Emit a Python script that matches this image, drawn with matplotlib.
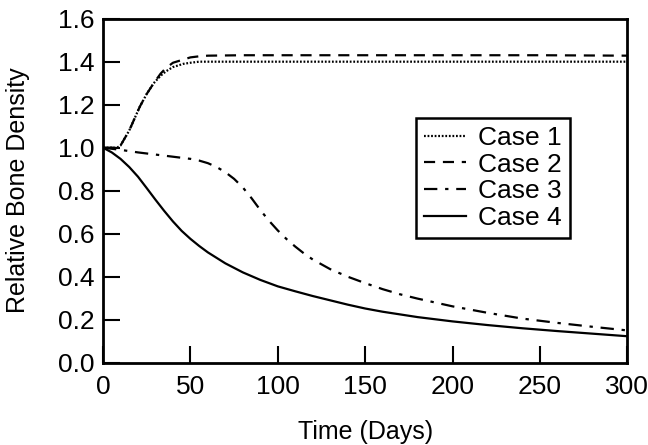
import matplotlib.pyplot as plt

plt.rcParams['font.family'] = ['Liberation Sans', 'DejaVu Sans']

# Case 1 / Case 2: rise to a plateau
days_up = [0, 5, 8, 10, 15, 21, 25, 29, 33, 36, 40, 46, 50, 55, 60, 80, 100, 150, 200, 250, 300]
case1 = [1.0, 1.0, 1.0, 1.01, 1.08, 1.19, 1.25, 1.30, 1.335, 1.355, 1.375, 1.39, 1.395, 1.40,
         1.40, 1.40, 1.40, 1.40, 1.40, 1.40, 1.40]
case2 = [1.0, 1.0, 1.0, 1.01, 1.08, 1.19, 1.25, 1.30, 1.345, 1.37, 1.395, 1.41, 1.42, 1.425,
         1.428, 1.43, 1.43, 1.43, 1.43, 1.43, 1.428]

# Case 3: delayed loss
days3 = [0, 10, 20, 30, 40, 50, 55, 60, 65, 70, 75, 80, 85, 90, 95, 100, 105, 110, 115, 120,
         130, 140, 150, 160, 170, 180, 200, 220, 240, 260, 280, 300]
case3 = [1.0, 0.99, 0.978, 0.968, 0.958, 0.948, 0.94, 0.928, 0.91, 0.886, 0.855, 0.815, 0.765,
         0.71, 0.66, 0.615, 0.575, 0.54, 0.508, 0.48, 0.435, 0.40, 0.37, 0.342, 0.318, 0.298,
         0.262, 0.232, 0.205, 0.185, 0.167, 0.15]

# Case 4: immediate loss
days4 = [0, 5, 10, 15, 20, 25, 30, 35, 40, 45, 50, 55, 60, 70, 80, 90, 100, 110, 120, 130,
         140, 150, 160, 180, 200, 220, 240, 260, 280, 300]
case4 = [1.0, 0.978, 0.948, 0.91, 0.865, 0.812, 0.758, 0.706, 0.657, 0.613, 0.576, 0.543,
         0.513, 0.462, 0.42, 0.385, 0.355, 0.332, 0.31, 0.29, 0.27, 0.252, 0.237, 0.212,
         0.192, 0.175, 0.16, 0.147, 0.135, 0.123]

fig = plt.figure(figsize=(6.48, 4.45), dpi=100)
ax = fig.add_axes([0.159, 0.185, 0.809, 0.773])

lw = 1.6
ax.plot(days_up, case1, color='black', lw=lw, dashes=(0.8, 0.8), label='Case 1')
ax.plot(days_up, case2, color='black', lw=lw, dashes=(5, 3.5), label='Case 2')
ax.plot(days3, case3, color='black', lw=lw, dashes=(6, 3.5, 1.5, 3.5), label='Case 3')
ax.plot(days4, case4, color='black', lw=lw, label='Case 4')

ax.set_xlim(0, 300)
ax.set_ylim(0, 1.6)
ax.set_xticks([0, 50, 100, 150, 200, 250, 300])
ax.set_yticks([0.0, 0.2, 0.4, 0.6, 0.8, 1.0, 1.2, 1.4, 1.6])
ax.set_yticklabels(['0.0', '0.2', '0.4', '0.6', '0.8', '1.0', '1.2', '1.4', '1.6'])
ax.tick_params(direction='in', length=12, width=1.5, labelsize=19, pad=6)
ax.tick_params(axis='x', pad=9)
for s in ax.spines.values():
    s.set_linewidth(2)

ax.set_xlabel('Time (Days)', fontsize=18, labelpad=15)
ax.set_ylabel('Relative Bone Density', fontsize=18, labelpad=20)

leg = ax.legend(loc='upper left', bbox_to_anchor=(0.597, 0.711), fontsize=19,
                frameon=True, fancybox=False, edgecolor='black', framealpha=1,
                handlelength=1.6, handletextpad=0.45, labelspacing=0.1,
                borderpad=0.3, borderaxespad=0)
leg.get_frame().set_linewidth(1.8)

fig.savefig('out.png', dpi=100)
